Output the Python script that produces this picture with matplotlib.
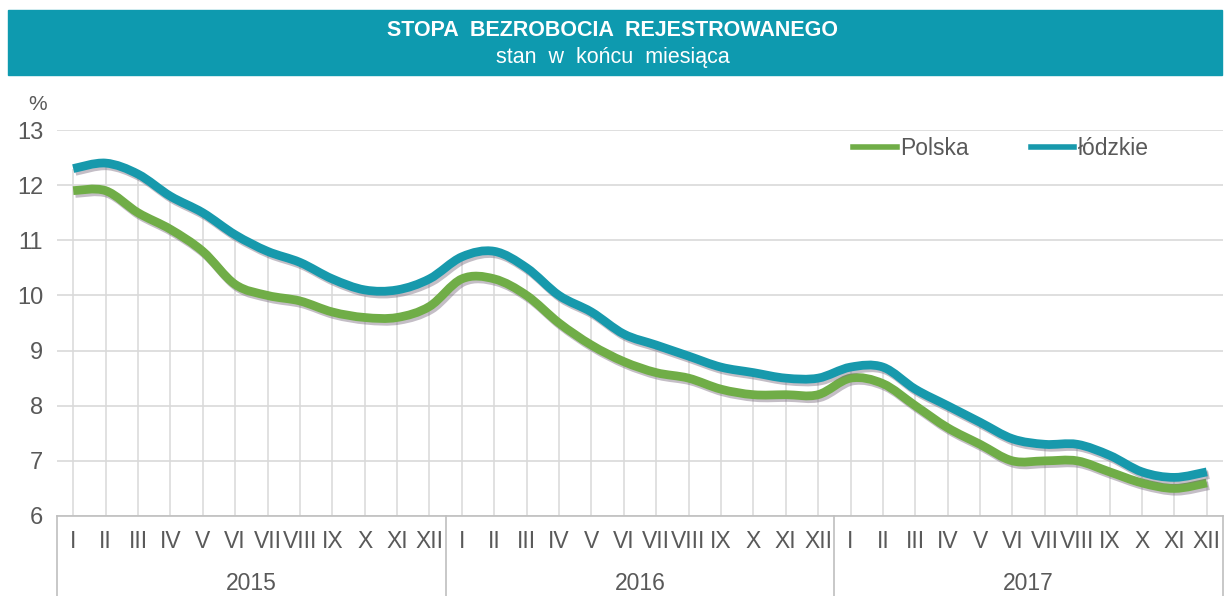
import numpy as np
import matplotlib
matplotlib.use('Agg')
import matplotlib.pyplot as plt
from matplotlib.path import Path
from matplotlib.patches import PathPatch, Rectangle
import matplotlib.patheffects as pe

# ── DATA ──────────────────────────────────────────────────────────────────────
years  = ['2015', '2016', '2017']
months = ['I', 'II', 'III', 'IV', 'V', 'VI', 'VII', 'VIII', 'IX', 'X', 'XI', 'XII']

polska = [11.9, 11.9, 11.5, 11.2, 10.8, 10.2, 10.0, 9.9, 9.7, 9.6, 9.6, 9.8,
          10.3, 10.3, 10.0, 9.5, 9.1, 8.8, 8.6, 8.5, 8.3, 8.2, 8.2, 8.2,
          8.5, 8.4, 8.0, 7.6, 7.3, 7.0, 7.0, 7.0, 6.8, 6.6, 6.5, 6.6]
lodzkie = [12.3, 12.4, 12.2, 11.8, 11.5, 11.1, 10.8, 10.6, 10.3, 10.1, 10.1, 10.3,
           10.7, 10.8, 10.5, 10.0, 9.7, 9.3, 9.1, 8.9, 8.7, 8.6, 8.5, 8.5,
           8.7, 8.7, 8.3, 8.0, 7.7, 7.4, 7.3, 7.3, 7.1, 6.8, 6.7, 6.8]

# ── STYLE ─────────────────────────────────────────────────────────────────────
GREEN  = '#70AD47'
BLUE   = '#1799AC'
HEADER = '#0E9AAF'
TXT    = '#595959'
GRID   = '#D9D9D9'
AXIS   = '#BFBFBF'

plt.rcParams['font.family'] = ['Liberation Sans', 'DejaVu Sans']


def smooth_path(xs, ys):
    # Excel-like smoothed line: cubic Bezier through every point
    pts = np.column_stack([xs, ys]).astype(float)
    n = len(pts)
    verts = [pts[0]]
    codes = [Path.MOVETO]
    for i in range(n - 1):
        p0 = pts[i - 1] if i > 0 else pts[i]
        p1, p2 = pts[i], pts[i + 1]
        p3 = pts[i + 2] if i + 2 < n else pts[i + 1]
        c1 = p1 + (p2 - p0) / 6.0
        c2 = p2 - (p3 - p1) / 6.0
        verts += [c1, c2, p2]
        codes += [Path.CURVE4] * 3
    return Path(verts, codes)


def main():
    n = len(polska)
    x = np.arange(n)

    fig = plt.figure(figsize=(12.25, 5.96), dpi=100)
    fig.patch.set_facecolor('white')

    # header band
    fig.patches.append(Rectangle((8 / 1225, 1 - 75 / 596), 1214 / 1225, 65 / 596,
                                 transform=fig.transFigure, color=HEADER, zorder=0))
    fig.text(0.5, 1 - 31 / 596, 'STOPA  BEZROBOCIA  REJESTROWANEGO', ha='center',
             va='center', color='white', fontsize=15.5, fontweight='bold')
    fig.text(0.5, 1 - 57 / 596, 'stan  w  końcu  miesiąca', ha='center',
             va='center', color='white', fontsize=15.5)

    ax = fig.add_axes([57 / 1225, 1 - 516 / 596, 1166 / 1225, 386 / 596])
    ax.set_xlim(-0.5, n - 0.5)
    ax.set_ylim(6, 13)

    # horizontal gridlines
    ax.set_yticks(range(6, 14))
    ax.grid(axis='y', color=GRID, linewidth=1.2, zorder=0)
    ax.tick_params(axis='y', length=0, labelsize=17, labelcolor=TXT, pad=10)

    # drop lines
    ax.vlines(x, 6, lodzkie, color=GRID, linewidth=1.1, zorder=1)

    shadow = [pe.SimpleLineShadow(offset=(1.5, -2), shadow_color='#7d6f82', alpha=0.45),
              pe.Normal()]
    for vals, col, lab in [(polska, GREEN, 'Polska'), (lodzkie, BLUE, 'łódzkie')]:
        patch = PathPatch(smooth_path(x, vals), fill=False, edgecolor=col,
                          linewidth=6.3, capstyle='butt', joinstyle='round', zorder=3)
        patch.set_path_effects(shadow)
        ax.add_patch(patch)
        ax.plot([], [], color=col, linewidth=4, label=lab)

    for s in ['top', 'right', 'left']:
        ax.spines[s].set_visible(False)
    ax.spines['bottom'].set_color(AXIS)
    ax.spines['bottom'].set_linewidth(1.2)

    # multi-level category axis
    ax.set_xticks([])
    tr = ax.get_xaxis_transform()
    for i in range(n):
        ax.text(x[i], -0.065, months[i % 12], transform=tr, ha='center', va='center',
                fontsize=16.5, color=TXT)
    for k, yr in enumerate(years):
        ax.text(k * 12 + 5.5, -0.175, yr, transform=tr, ha='center', va='center',
                fontsize=16.5, color=TXT)
    for b in [-0.5, 11.5, 23.5, 35.5]:
        ax.plot([b, b], [0, -0.25], transform=tr, color=AXIS, linewidth=1.2,
                clip_on=False)

    fig.text(38 / 1225, 1 - 105 / 596, '%', ha='center', va='center',
             fontsize=15, color=TXT)

    ax.legend(loc='center left', bbox_to_anchor=(0.683, 0.952), ncol=2,
              frameon=False, fontsize=16.5, labelcolor=TXT, handlelength=1.9,
              handletextpad=0.15, columnspacing=2.7, borderpad=0, borderaxespad=0)

    fig.savefig('out.png', dpi=100, facecolor='white')


if __name__ == '__main__':
    main()
